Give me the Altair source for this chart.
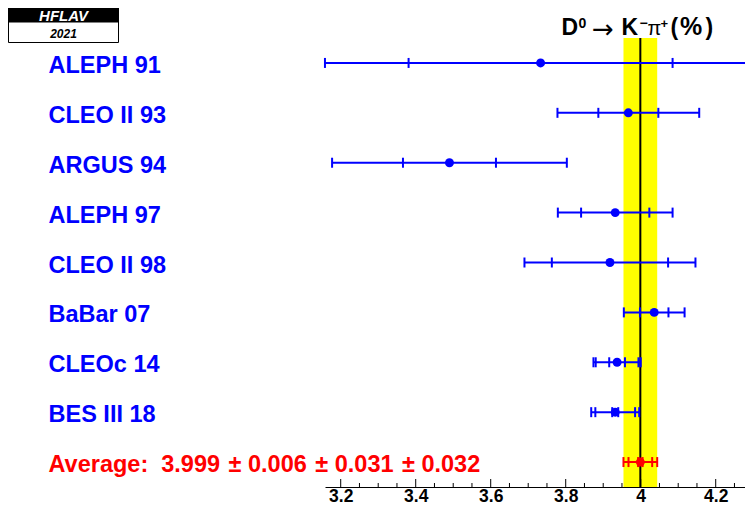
import altair as alt
import pandas as pd
import numpy as np

# ---- data ----
experiments = ["ALEPH 91", "CLEO II 93", "ARGUS 94", "ALEPH 97", "CLEO II 98",
               "BaBar 07", "CLEOc 14", "BES III 18"]
values = [3.733, 3.967, 3.490, 3.932, 3.918, 4.036, 3.937, 3.932]
stat_err = [0.352, 0.080, 0.124, 0.091, 0.155, 0.038, 0.021, 0.008]
mid_err = [None, None, None, None, None, None, 0.057, 0.053]
total_err = [0.575, 0.189, 0.313, 0.153, 0.228, 0.081, 0.063, 0.064]

avg_value = 3.999
avg_stat = 0.006
avg_syst = 0.031
avg_ext = 0.032

major_ticks = [3.2, 3.4, 3.6, 3.8, 4.0, 4.2]
minor_ticks = [3.25, 3.3, 3.35, 3.45, 3.5, 3.55, 3.65, 3.7, 3.75,
               3.85, 3.9, 3.95, 4.05, 4.1, 4.15, 4.25]
# visible part of the axis (the page is 737 px wide inside its margins)
x_domain = [3.1581, 4.2781]

logo_top = "HFLAV"
logo_year = "2021"

# ---- derived tables ----
avg_mid = float(np.sqrt(avg_stat**2 + avg_syst**2))
avg_tot = float(np.sqrt(avg_stat**2 + avg_syst**2 + avg_ext**2))
NB = "\u00a0"
PM = " \u200a\u00b1 "
avg_label = (f"Average:{NB}{NB}{avg_value:.3f}{PM}{avg_stat:.3f}{PM}"
             f"{avg_syst:.3f}{PM}{avg_ext:.3f}")

labels = experiments + [avg_label]
vals = values + [avg_value]
stats = stat_err + [avg_stat]
mids = mid_err + [avg_mid]
tots = total_err + [avg_tot]
cols = ["#0000ff"] * len(experiments) + ["#ff0000"]

rows = pd.DataFrame({
    "label": labels,
    "value": vals,
    "lo": [max(v - t, x_domain[0]) for v, t in zip(vals, tots)],
    "hi": [min(v + t, x_domain[1]) for v, t in zip(vals, tots)],
    "col": cols,
})

cap_rows = []
for lab, v, s, m, t, c in zip(labels, vals, stats, mids, tots, cols):
    for e in [s, m, t]:
        if e is None:
            continue
        for x in (v - e, v + e):
            if x_domain[0] - 1e-3 <= x <= x_domain[1]:
                cap_rows.append({"label": lab, "x": x, "col": c})
caps = pd.DataFrame(cap_rows)

band = pd.DataFrame({"lo": [avg_value - avg_tot], "hi": [avg_value + avg_tot], "v": [avg_value]})
majors = pd.DataFrame({"t": major_ticks})
minors = pd.DataFrame({"t": minor_ticks})
one = pd.DataFrame({"d": [0]})

W = 420
H = 449
PAD_L, PAD_T, PAD_B = 317, 30, 19
OX, OY = 8 + PAD_L, 8 + PAD_T  # page position of the plot origin
FONT = "Liberation Sans"

xscale = alt.Scale(domain=x_domain, nice=False, zero=False)
xaxis = alt.Axis(title=None, values=major_ticks, format="~g", ticks=False, grid=False,
                 domainColor="black", domainWidth=1, labelFont=FONT, labelFontSize=17.5,
                 labelFontWeight="bold", labelColor="black", labelPadding=14.5,
                 labelBaseline="alphabetic", labelFlush=False)


def X(field):
    return alt.X(field, scale=xscale, axis=xaxis)


yscale = alt.Scale(domain=labels, paddingInner=0, paddingOuter=0)
yaxis = alt.Axis(title=None, domain=False, ticks=False, labelAlign="left", labelPadding=277,
                 labelFont=FONT, labelFontSize=23.5, labelFontWeight="bold",
                 labelColor=alt.ExprRef(expr="indexof(datum.label, 'Average') == 0 ? '#ff0000' : '#0000ff'"),
                 labelLimit=700, labelBaseline="middle", labelOffset=3)
Y = alt.Y("label:N", scale=yscale, axis=yaxis)

band_layer = alt.Chart(band).mark_rect(color="#ffff00").encode(
    x=X("lo:Q"), x2="hi:Q", y=alt.value(0), y2=alt.value(H))
line_layer = alt.Chart(band).mark_rule(color="black", strokeWidth=2).encode(
    x=X("v:Q"), y=alt.value(0), y2=alt.value(H))
err_layer = alt.Chart(rows).mark_rule(strokeWidth=2).encode(
    x=X("lo:Q"), x2="hi:Q", y=Y, color=alt.Color("col:N", scale=None))
cap_layer = alt.Chart(caps).mark_tick(size=10, thickness=2, opacity=1).encode(
    x=X("x:Q"), y=Y, color=alt.Color("col:N", scale=None))
pt_layer = alt.Chart(rows).mark_circle(size=80, opacity=1).encode(
    x=X("value:Q"), y=Y, color=alt.Color("col:N", scale=None))
major_layer = alt.Chart(majors).mark_rule(color="black", strokeWidth=1).encode(
    x=X("t:Q"), y=alt.value(H - 8), y2=alt.value(H))
minor_layer = alt.Chart(minors).mark_rule(color="black", strokeWidth=1).encode(
    x=X("t:Q"), y=alt.value(H - 4), y2=alt.value(H))

# logo
logo_black = alt.Chart(one).mark_rect(color="black").encode(
    x=alt.value(8 - OX), x2=alt.value(119 - OX), y=alt.value(8 - OY), y2=alt.value(22 - OY))
logo_white = alt.Chart(one).mark_rect(fill="white", stroke="black", strokeWidth=1).encode(
    x=alt.value(8.5 - OX), x2=alt.value(118.5 - OX), y=alt.value(22 - OY), y2=alt.value(42.5 - OY))
logo_t1 = alt.Chart(one).mark_text(text=logo_top, font=FONT, fontSize=15, fontWeight="bold",
                                   fontStyle="italic", color="white", align="center",
                                   baseline="alphabetic").encode(
    x=alt.value(63.5 - OX), y=alt.value(20.5 - OY))
logo_t2 = alt.Chart(one).mark_text(text=logo_year, font=FONT, fontSize=12, fontWeight="bold",
                                   fontStyle="italic", color="black", align="center",
                                   baseline="alphabetic").encode(
    x=alt.value(63.5 - OX), y=alt.value(37.5 - OY))

# title pieces: (text, page x-left, page baseline, size, weight, font)
title_pieces = [
    ("D", 561.5, 35, 23, "bold", FONT),
    ("0", 578.5, 28, 14, "bold", FONT),
    ("\u2192", 592, 38, 26, "normal", "DejaVu Sans"),
    ("K", 621.5, 35, 23, "bold", FONT),
    ("\u2212", 639.5, 28, 14, "bold", FONT),
    ("\u03c0", 647.5, 35, 20, "normal", FONT),
    ("+", 660.5, 28, 13, "bold", FONT),
    ("(", 670.5, 35, 23, "bold", FONT),
    ("%", 680, 35, 25, "bold", FONT),
    (")", 705.5, 35, 23, "bold", FONT),
]
title_layers = [
    alt.Chart(one).mark_text(text=t, font=f, fontSize=s, fontWeight=w, color="black",
                             align="left", baseline="alphabetic").encode(
        x=alt.value(px - OX), y=alt.value(py - OY))
    for t, px, py, s, w, f in title_pieces
]

chart = alt.layer(
    band_layer, line_layer, err_layer, cap_layer, pt_layer, major_layer, minor_layer,
    logo_black, logo_white, logo_t1, logo_t2, *title_layers
).properties(
    width=W, height=H,
    autosize=alt.AutoSizeParams(type="none"),
    padding={"left": PAD_L, "top": PAD_T, "right": 0, "bottom": PAD_B},
).configure_view(stroke=None)

chart.save("out.html", embed_options={"renderer": "svg", "actions": False})
